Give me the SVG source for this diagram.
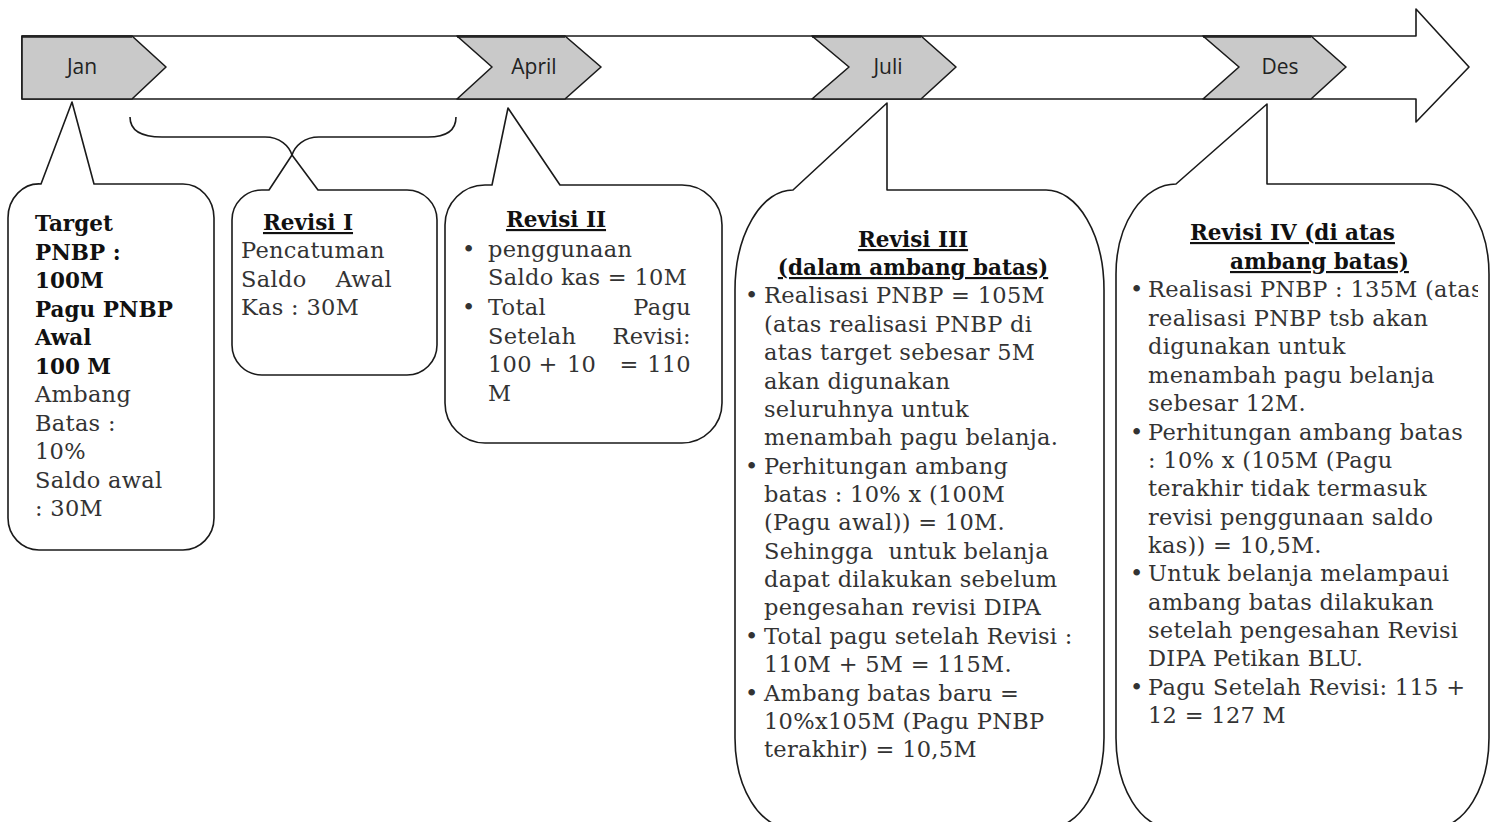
<svg xmlns="http://www.w3.org/2000/svg" width="1496" height="822" viewBox="0 0 1496 822">
<style>
.ln{fill:none;stroke:#1a1a1a;stroke-width:1.6;stroke-linejoin:round}
.box{fill:#fff;stroke:#1a1a1a;stroke-width:1.6;stroke-linejoin:round}
.chev{fill:#c9c9c9;stroke:#1a1a1a;stroke-width:1.6;stroke-linejoin:round}
.mon{font-family:"Open Sans","Liberation Sans",sans-serif;font-size:21px;fill:#222;text-anchor:middle}
.t{font-family:"DejaVu Serif","Liberation Serif",serif;font-size:22.5px;letter-spacing:0.3px;fill:#333}
.b{font-family:"DejaVu Serif","Liberation Serif",serif;font-size:21.5px;font-weight:bold;fill:#111}
.h{font-family:"DejaVu Serif","Liberation Serif",serif;font-size:21.5px;font-weight:bold;fill:#111;text-decoration:underline}
.e{text-anchor:end}
.m{text-anchor:middle}
</style>
<defs>
<clipPath id="clip4"><rect x="1116" y="184" width="362" height="640"/></clipPath>
</defs>
<rect width="1496" height="822" fill="#fff"/>

<g id="timeline">
<path class="box" d="M22,36 L1416,36 L1416,9 L1469,67 L1416,122 L1416,99 L22,99 Z"/>
</g>
<g id="jan">
<path class="chev" d="M22,36 L132,36 L166,67 L132,99 L22,99 Z"/>
<line class="ln" x1="22" y1="37" x2="132" y2="37" stroke-width="3"/>
<text class="mon" x="82" y="74">Jan</text>
</g>
<g id="april">
<path class="chev" d="M457,36 L565,36 L601,67 L565,99 L457,99 L492,67 Z"/>
<line class="ln" x1="457" y1="37" x2="565" y2="37" stroke-width="3"/>
<text class="mon" x="534" y="74">April</text>
</g>
<g id="juli">
<path class="chev" d="M812,36 L921,36 L956,67 L921,99 L812,99 L849,67 Z"/>
<line class="ln" x1="812" y1="37" x2="921" y2="37" stroke-width="3"/>
<text class="mon" x="888" y="74">Juli</text>
</g>
<g id="des">
<path class="chev" d="M1203,36 L1311,36 L1346,67 L1311,99 L1203,99 L1239,67 Z"/>
<line class="ln" x1="1203" y1="37" x2="1311" y2="37" stroke-width="3"/>
<text class="mon" x="1280" y="74">Des</text>
</g>

<g id="connectors">
<path class="ln" d="M130,117 C130,131 142,137 162,137 L265,137 C280,137 289,146 292,155 C295,146 304,137 319,137 L428,137 C446,137 456,131 456,117"/>
</g>

<g id="box-jan">
<path class="box" d="M41,184 L72,102 L94,184 L183,184 A31 34 0 0 1 214,218 L214,518 A31 32 0 0 1 183,550 L39,550 A31 32 0 0 1 8,518 L8,218 A31 34 0 0 1 41,184 Z"/>
<text class="b" x="35" y="231">Target</text>
<text class="b" x="35" y="260">PNBP :</text>
<text class="b" x="35" y="288">100M</text>
<text class="b" x="35" y="317">Pagu PNBP</text>
<text class="b" x="35" y="345">Awal</text>
<text class="b" x="35" y="374">100 M</text>
<text class="t" x="35" y="402">Ambang</text>
<text class="t" x="35" y="431">Batas :</text>
<text class="t" x="35" y="459">10%</text>
<text class="t" x="35" y="488">Saldo awal</text>
<text class="t" x="35" y="516">: 30M</text>
</g>

<g id="box-revisi1">
<path class="box" d="M269,190 L292,155 L318,190 L407,190 A30 30 0 0 1 437,220 L437,345 A30 30 0 0 1 407,375 L262,375 A30 30 0 0 1 232,345 L232,220 A30 30 0 0 1 262,190 Z"/>
<text class="h m" x="308" y="230">Revisi I</text>
<text class="t" x="241" y="258">Pencatuman</text>
<text class="t" x="241" y="287">Saldo</text>
<text class="t e" x="392" y="287">Awal</text>
<text class="t" x="241" y="315">Kas : 30M</text>
</g>

<g id="box-revisi2">
<path class="box" d="M492,185 L508,108 L560,185 L682,185 A40 40 0 0 1 722,225 L722,403 A40 40 0 0 1 682,443 L485,443 A40 40 0 0 1 445,403 L445,225 A40 40 0 0 1 485,185 Z"/>
<text class="h m" x="556" y="227">Revisi II</text>
<text class="t" x="462" y="257">•</text>
<text class="t" x="488" y="257">penggunaan</text>
<text class="t" x="488" y="285">Saldo kas = 10M</text>
<text class="t" x="462" y="315">•</text>
<text class="t" x="488" y="315">Total</text>
<text class="t e" x="691" y="315">Pagu</text>
<text class="t" x="488" y="344">Setelah</text>
<text class="t e" x="691" y="344">Revisi:</text>
<text class="t" x="488" y="372">100</text>
<text class="t m" x="548" y="372">+</text>
<text class="t" x="567" y="372">10</text>
<text class="t m" x="629" y="372">=</text>
<text class="t e" x="691" y="372">110</text>
<text class="t" x="488" y="401">M</text>
</g>

<g id="box-revisi3">
<path class="box" d="M793,190 L887,103 L887,190 L1046,190 A58 100 0 0 1 1104,290 L1104,738 A55 90 0 0 1 1049,828 L790,828 A55 90 0 0 1 735,738 L735,290 A58 100 0 0 1 793,190 Z"/>
<text class="h m" x="913" y="247">Revisi III</text>
<text class="h m" x="913" y="275">(dalam ambang batas)</text>
<text class="t" x="745" y="303">•</text>
<text class="t" x="764" y="303">Realisasi PNBP = 105M</text>
<text class="t" x="764" y="332">(atas realisasi PNBP di</text>
<text class="t" x="764" y="360">atas target sebesar 5M</text>
<text class="t" x="764" y="389">akan digunakan</text>
<text class="t" x="764" y="417">seluruhnya untuk</text>
<text class="t" x="764" y="445">menambah pagu belanja.</text>
<text class="t" x="745" y="474">•</text>
<text class="t" x="764" y="474">Perhitungan ambang</text>
<text class="t" x="764" y="502">batas : 10% x (100M</text>
<text class="t" x="764" y="530">(Pagu awal)) = 10M.</text>
<text class="t" x="764" y="559" xml:space="preserve">Sehingga  untuk belanja</text>
<text class="t" x="764" y="587">dapat dilakukan sebelum</text>
<text class="t" x="764" y="615">pengesahan revisi DIPA</text>
<text class="t" x="745" y="644">•</text>
<text class="t" x="764" y="644">Total pagu setelah Revisi :</text>
<text class="t" x="764" y="672">110M + 5M = 115M.</text>
<text class="t" x="745" y="701">•</text>
<text class="t" x="764" y="701">Ambang batas baru =</text>
<text class="t" x="764" y="729">10%x105M (Pagu PNBP</text>
<text class="t" x="764" y="757">terakhir) = 10,5M</text>
</g>

<g id="box-revisi4">
<path class="box" d="M1176,184 L1267,104 L1267,184 L1430,184 A59 90 0 0 1 1489,274 L1489,738 A55 90 0 0 1 1434,828 L1171,828 A55 90 0 0 1 1116,738 L1116,274 A60 90 0 0 1 1176,184 Z"/>
<text class="h" x="1190" y="240">Revisi IV (di atas</text>
<text class="h" x="1230" y="269">ambang batas)</text>
<text class="t" x="1130" y="297">•</text>
<text class="t" x="1148" y="297" clip-path="url(#clip4)">Realisasi PNBP : 135M (atas</text>
<text class="t" x="1148" y="326">realisasi PNBP tsb akan</text>
<text class="t" x="1148" y="354">digunakan untuk</text>
<text class="t" x="1148" y="383">menambah pagu belanja</text>
<text class="t" x="1148" y="411">sebesar 12M.</text>
<text class="t" x="1130" y="440">•</text>
<text class="t" x="1148" y="440">Perhitungan ambang batas</text>
<text class="t" x="1148" y="468">: 10% x (105M (Pagu</text>
<text class="t" x="1148" y="496">terakhir tidak termasuk</text>
<text class="t" x="1148" y="525">revisi penggunaan saldo</text>
<text class="t" x="1148" y="553">kas)) = 10,5M.</text>
<text class="t" x="1130" y="581">•</text>
<text class="t" x="1148" y="581">Untuk belanja melampaui</text>
<text class="t" x="1148" y="610">ambang batas dilakukan</text>
<text class="t" x="1148" y="638">setelah pengesahan Revisi</text>
<text class="t" x="1148" y="666">DIPA Petikan BLU.</text>
<text class="t" x="1130" y="695">•</text>
<text class="t" x="1148" y="695">Pagu Setelah Revisi: 115 +</text>
<text class="t" x="1148" y="723">12 = 127 M</text>
</g>
</svg>
